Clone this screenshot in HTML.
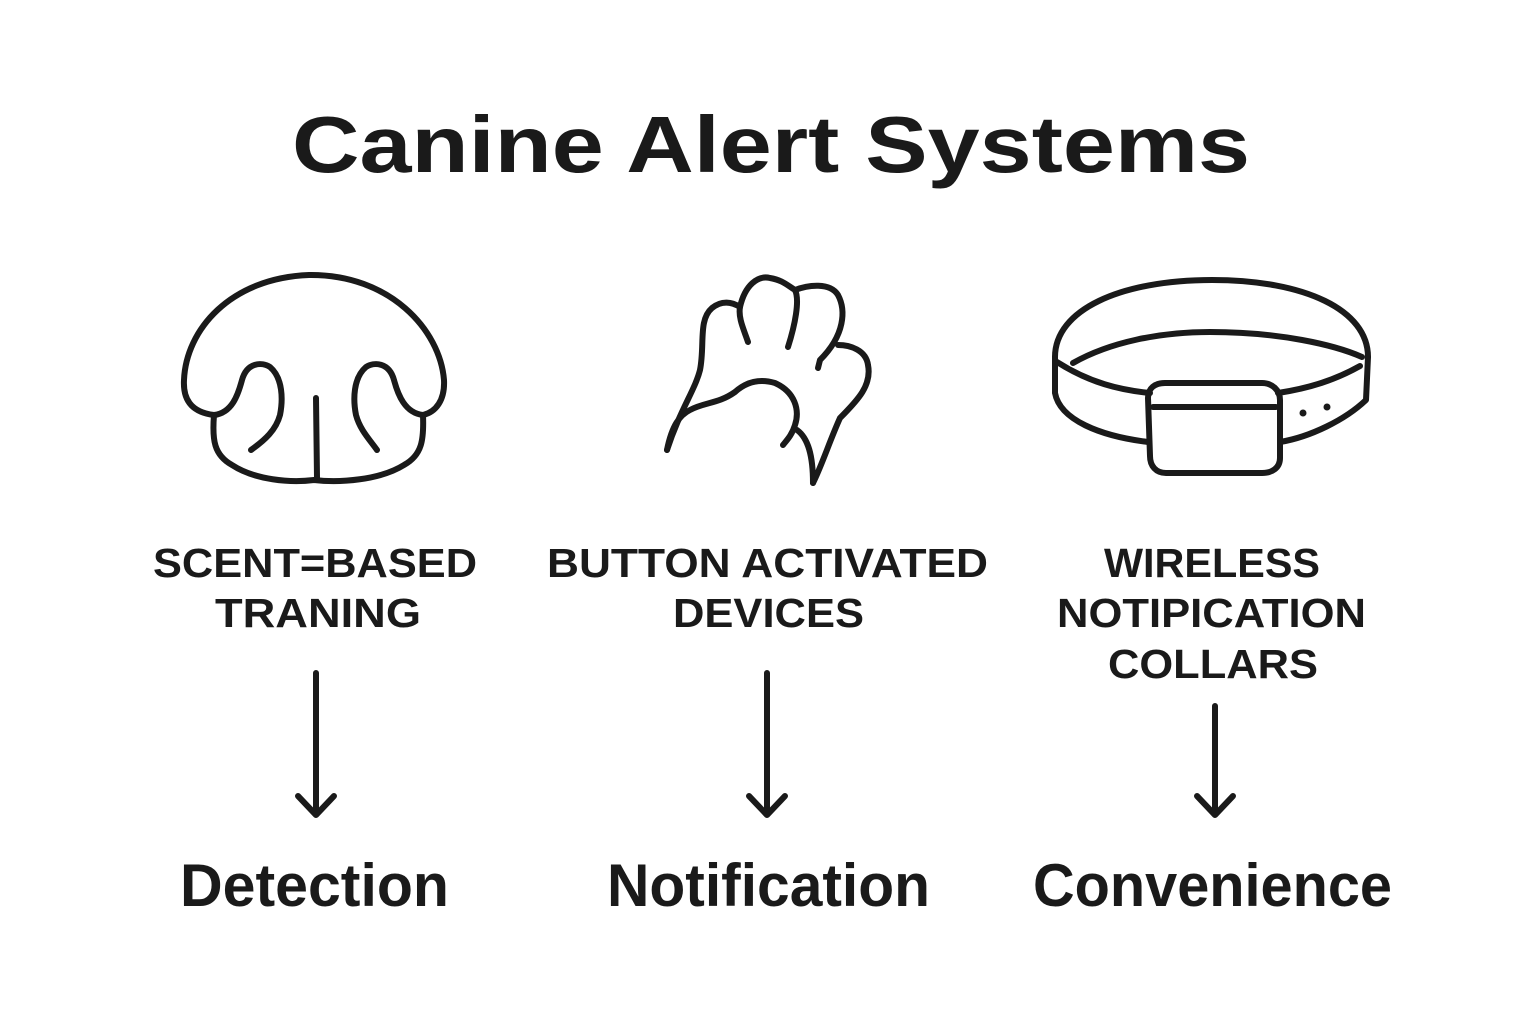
<!DOCTYPE html>
<html><head><meta charset="utf-8"><style>
html,body{margin:0;padding:0;background:#fff;}
svg{display:block;}
text{font-family:"Liberation Sans",Arial,sans-serif;font-weight:bold;fill:#1a1a1a;}
</style></head><body>
<svg width="1536" height="1024" viewBox="0 0 1536 1024" xmlns="http://www.w3.org/2000/svg">
<rect width="1536" height="1024" fill="#fff"/>
<text x="292" y="172" font-size="80" textLength="958" lengthAdjust="spacingAndGlyphs">Canine Alert Systems</text>

<g fill="none" stroke="#1a1a1a" stroke-width="6" stroke-linecap="round" stroke-linejoin="round">
<path d="M214,415 C190,412 183,398 184,380 C186,330 230,278 309,275 C390,274 440,330 444,380 C445,400 436,412 423,415"/>
<path d="M214,415 C232,413 238,395 242,380 C247,362 262,362 270,367 C283,378 283,400 280,415 C276,430 265,440 251,450"/>
<path d="M423,415 C405,413 398,395 394,380 C389,362 374,362 366,367 C353,378 353,400 356,415 C360,430 370,440 377,450"/>
<path d="M214,415 C212,440 214,455 232,465 C255,480 290,483 314,480 C340,483 380,480 404,465 C422,455 424,440 423,415"/>
<path d="M316,398 L317,478"/>
<path d="M667,450 C672,425 680,415 690,410 C705,402 718,404 735,392 C745,383 758,378 775,383 C795,392 800,410 795,425 C792,435 787,440 783,445"/>
<path d="M667,450 C680,410 695,390 700,370 C705,345 698,320 712,308 C722,300 732,302 740,307 C738,318 744,330 748,342"/>
<path d="M740,307 C745,285 758,275 770,278 C782,280 787,285 795,290 C800,300 795,325 788,347"/>
<path d="M795,290 C808,285 830,282 838,295 C846,310 845,335 820,360 L818,368"/>
<path d="M838,345 C850,345 866,350 868,365 C872,385 858,400 840,418 C830,440 822,465 813,483"/>
<path d="M797,430 C808,438 813,455 813,483"/>
<path d="M1055,357 C1055,310 1120,280 1212,280 C1305,280 1368,310 1368,357"/>
<path d="M1055,357 L1055,393 C1060,420 1100,436 1148,442"/>
<path d="M1368,357 L1366,400 C1345,420 1310,437 1280,442"/>
<path d="M1073,363 C1110,342 1160,332 1210,332 C1280,332 1335,345 1362,357"/>
<path d="M1057,362 C1090,383 1120,390 1150,393"/>
<path d="M1278,393 C1310,388 1335,380 1360,366"/>
<path d="M1148,398 C1148,388 1155,383 1165,383 L1262,383 C1272,383 1280,390 1280,400 L1280,458 C1280,468 1272,473 1262,473 L1166,473 C1156,473 1150,466 1150,456 Z"/>
<path d="M1153,407 L1276,407"/>
<path d="M316,673 L316,815 M298,796 L316,815 L334,796"/>
<path d="M767,673 L767,815 M749,796 L767,815 L785,796"/>
<path d="M1215,706 L1215,815 M1197,796 L1215,815 L1233,796"/>
</g>
<circle cx="1303" cy="413" r="3.5" fill="#1a1a1a"/>
<circle cx="1327" cy="407" r="3.5" fill="#1a1a1a"/>

<g font-size="41">
<text x="153" y="577" textLength="324" lengthAdjust="spacingAndGlyphs">SCENT=BASED</text>
<text x="215" y="627" textLength="206" lengthAdjust="spacingAndGlyphs">TRANING</text>
<text x="547" y="577" textLength="441" lengthAdjust="spacingAndGlyphs">BUTTON ACTIVATED</text>
<text x="673" y="627" textLength="191" lengthAdjust="spacingAndGlyphs">DEVICES</text>
<text x="1104" y="577" textLength="216" lengthAdjust="spacingAndGlyphs">WIRELESS</text>
<text x="1057" y="627" textLength="309" lengthAdjust="spacingAndGlyphs">NOTIPICATION</text>
<text x="1108" y="678" textLength="210" lengthAdjust="spacingAndGlyphs">COLLARS</text>
</g>
<g font-size="60">
<text x="180" y="906" textLength="269" lengthAdjust="spacingAndGlyphs">Detection</text>
<text x="607" y="906" textLength="323" lengthAdjust="spacingAndGlyphs">Notification</text>
<text x="1033" y="906" textLength="359" lengthAdjust="spacingAndGlyphs">Convenience</text>
</g>
</svg>
</body></html>
